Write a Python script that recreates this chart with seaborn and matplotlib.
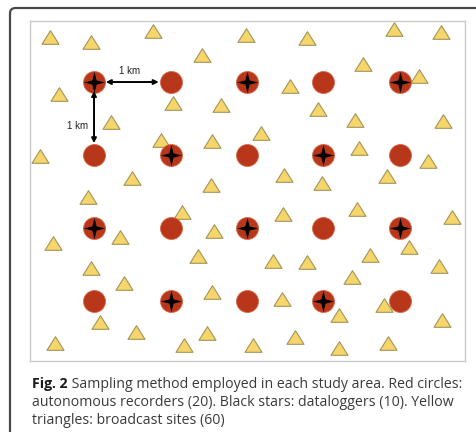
import matplotlib
matplotlib.use("Agg")
import matplotlib.pyplot as plt
import seaborn as sns
import pandas as pd
from matplotlib.path import Path
from matplotlib.patches import FancyBboxPatch

# recorder grid (km): 5 columns x 4 rows
rec_x = [0, 1, 2, 3, 4]
rec_y = [3, 2, 1, 0]
# which grid cells also hold a datalogger (row, column)
logger_cells = [(3, 0), (3, 2), (3, 4),
                (2, 1), (2, 3),
                (1, 0), (1, 2), (1, 4),
                (0, 1), (0, 3)]

# broadcast sites (km)
tri_x = [-0.58, -0.04, 0.77, -0.46, 0.22, 1.03, 0.88, -0.71, 0.50, -0.08,
         1.99, 2.78, 1.41, 2.56, 1.66, 2.93, 2.18, 1.54, 2.48, 1.53,
         2.98, 3.92, 4.54, 3.52, 4.25, 3.41, 4.56, 3.46, 4.37, 3.83,
         -0.54, 0.34, -0.04, 0.39, 0.08, 0.55, -0.51, 1.15, 2.47, 1.57,
         1.36, 2.34, 2.78, 1.54, 2.46, 1.48, 1.18, 2.08, 2.63, 3.44,
         4.68, 4.12, 3.61, 4.51, 3.37, 3.79, 3.20, 4.55, 3.20, 3.84]
tri_y = [3.62, 3.55, 3.70, 2.84, 2.45, 2.71, 2.21, 1.99, 1.68, 1.43,
         3.64, 3.60, 3.37, 2.95, 2.69, 2.63, 2.30, 2.19, 1.73, 1.59,
         1.62, 3.73, 3.69, 3.25, 3.08, 2.48, 2.47, 2.10, 1.92, 1.71,
         0.80, 0.88, 0.45, 0.25, -0.29, -0.43, -0.58, 1.22, 1.19, 0.96,
         0.62, 0.55, 0.53, 0.12, 0.03, -0.44, -0.60, -0.60, -0.49, 1.26,
         1.15, 0.74, 0.63, 0.48, 0.33, -0.06, -0.19, -0.26, -0.64, -0.58]

caption = ["Sampling method employed in each study area. Red circles:",
           "autonomous recorders (20). Black stars: dataloggers (10). Yellow",
           "triangles: broadcast sites (60)"]

recorders = pd.DataFrame([(x, y) for y in rec_y for x in rec_x], columns=["x", "y"])
loggers = pd.DataFrame([(rec_x[c], r) for r, c in logger_cells], columns=["x", "y"])
sites = pd.DataFrame({"x": tri_x, "y": tri_y})

sns.set_style("white")
plt.rcParams["font.family"] = ["Liberation Sans", "DejaVu Sans"]

fig = plt.figure(figsize=(4.77, 4.32), dpi=100)
ax = fig.add_axes([30 / 477, 1 - 361 / 432, 435 / 477, 340 / 432])

tri_marker = Path([(-1, -0.8), (0, 0.8), (1, -0.8), (-1, -0.8)],
                  [Path.MOVETO, Path.LINETO, Path.LINETO, Path.CLOSEPOLY])
k = 0.2
star_marker = Path([(0, 1), (k, k), (1, 0), (k, -k), (0, -1),
                    (-k, -k), (-1, 0), (-k, k), (0, 1)],
                   [Path.MOVETO] + [Path.LINETO] * 7 + [Path.CLOSEPOLY])

sns.scatterplot(ax=ax, data=sites, x="x", y="y", marker=tri_marker, s=150,
                color="#F6D66B", edgecolor="#A3945A", linewidth=0.8, zorder=2)
sns.scatterplot(ax=ax, data=recorders, x="x", y="y", marker="o", s=250,
                color="#B8361A", edgecolor="#D9684A", linewidth=0.6, zorder=3)
sns.scatterplot(ax=ax, data=loggers, x="x", y="y", marker=star_marker, s=230,
                color="black", edgecolor="black", linewidth=0, zorder=4)

# 1 km spacing arrows between neighbouring recorders
arrow = dict(arrowstyle="<|-|>", color="black", lw=1.4,
             mutation_scale=7, shrinkA=8.5, shrinkB=8.5)
ax.annotate("", xy=(rec_x[1], rec_y[0]), xytext=(rec_x[0], rec_y[0]),
            arrowprops=arrow, zorder=5)
ax.annotate("", xy=(rec_x[0], rec_y[1]), xytext=(rec_x[0], rec_y[0]),
            arrowprops=dict(arrow, shrinkA=6.5), zorder=5)
ax.text((rec_x[0] + rec_x[1]) / 2 - 0.03, rec_y[0] + 0.15, "1 km",
        ha="center", va="center", fontsize=7, color="#222222")
ax.text(rec_x[0] - 0.22, (rec_y[0] + rec_y[1]) / 2 - 0.1, "1 km",
        ha="center", va="center", fontsize=7, color="#222222")

ax.set_xlim(-0.837, 4.85)
ax.set_ylim(-0.822, 3.836)
ax.set_xticks([])
ax.set_yticks([])
ax.set_xlabel("")
ax.set_ylabel("")
for sp in ax.spines.values():
    sp.set_color("#c9c9c9")
    sp.set_linewidth(1.0)

# outer frame of the figure panel
frame = FancyBboxPatch((10 / 477, -0.2), 1.2, 0.2 + 1 - 8 / 432,
                       boxstyle="round,pad=0,rounding_size=0.012",
                       transform=fig.transFigure, fill=False,
                       edgecolor="#4a4a4a", linewidth=1.6, clip_on=False)
fig.add_artist(frame)

# caption
cap_font = ["Open Sans", "DejaVu Sans"]
fs = 10.2
x0 = 32 / 477
t = fig.text(x0, 1 - 384 / 432, "Fig. 2", fontsize=fs, fontweight="bold",
             family=cap_font, color="#1a1a1a", va="center", ha="left")
ax.annotate(" " + caption[0], xy=(1, 0.5), xycoords=t, va="center", ha="left",
            fontsize=fs, family=cap_font, color="#3a3a3a", annotation_clip=False)
fig.text(x0, 1 - 403 / 432, caption[1],
         fontsize=fs, family=cap_font, color="#3a3a3a", va="center", ha="left")
fig.text(x0, 1 - 421 / 432, caption[2],
         fontsize=fs, family=cap_font, color="#3a3a3a", va="center", ha="left")

plt.savefig("out.png", dpi=100)
plt.close()
